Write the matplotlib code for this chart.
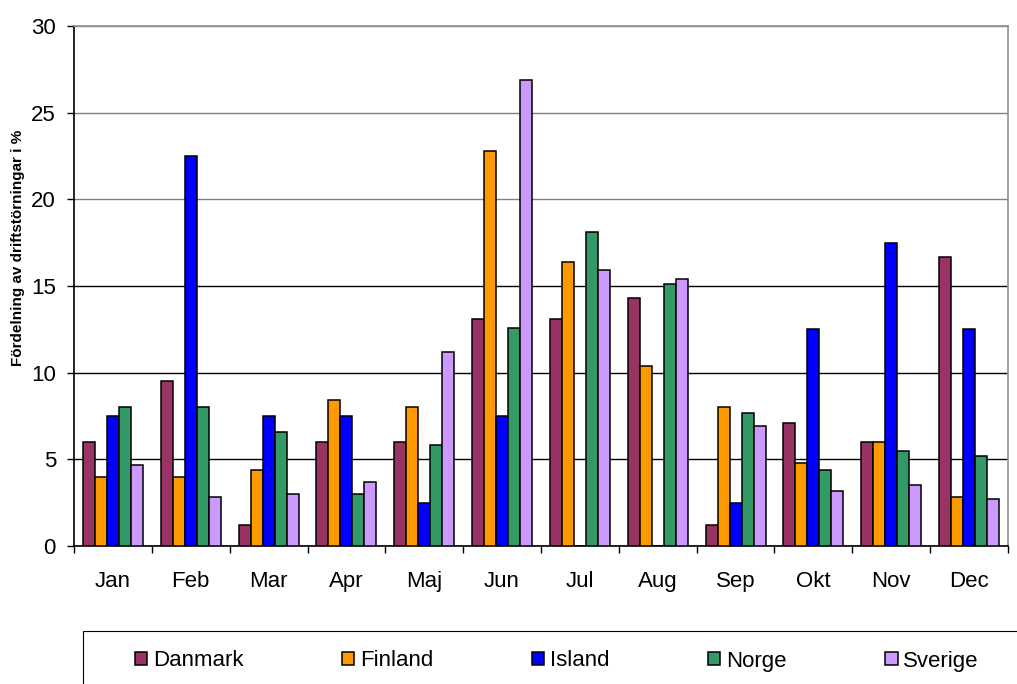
import numpy as np
import matplotlib
matplotlib.use("Agg")
import matplotlib.pyplot as plt
from matplotlib.patches import Rectangle

plt.rcParams["font.family"] = ["Liberation Sans", "DejaVu Sans"]

months = ["Jan", "Feb", "Mar", "Apr", "Maj", "Jun",
          "Jul", "Aug", "Sep", "Okt", "Nov", "Dec"]
countries = ["Danmark", "Finland", "Island", "Norge", "Sverige"]

danmark = [6.0, 9.5, 1.2, 6.0, 6.0, 13.1, 13.1, 14.3, 1.2, 7.1, 6.0, 16.7]
finland = [4.0, 4.0, 4.4, 8.4, 8.0, 22.8, 16.4, 10.4, 8.0, 4.8, 6.0, 2.8]
island = [7.5, 22.5, 7.5, 7.5, 2.5, 7.5, 0.0, 0.0, 2.5, 12.5, 17.5, 12.5]
norge = [8.0, 8.0, 6.6, 3.0, 5.8, 12.6, 18.1, 15.1, 7.7, 4.4, 5.5, 5.2]
sverige = [4.7, 2.8, 3.0, 3.7, 11.2, 26.9, 15.9, 15.4, 6.9, 3.2, 3.5, 2.7]

series = [danmark, finland, island, norge, sverige]
colors = ["#993366", "#FF9900", "#0000FF", "#339966", "#CC99FF"]

W, H = 1017, 684
fig = plt.figure(figsize=(W / 100, H / 100), dpi=100)
ax = fig.add_axes([74 / W, 1 - 546 / H, (1008 - 74) / W, (546 - 26) / H])

x = np.arange(len(months))
bw = 0.154
for i, (vals, col, name) in enumerate(zip(series, colors, countries)):
    ax.bar(x + (i - 2) * bw, vals, width=bw, color=col, edgecolor="black",
           linewidth=1.1, label=name, zorder=3)

ax.set_xlim(-0.5, len(months) - 0.5)
ax.set_ylim(0, 30)
ax.set_yticks(np.arange(0, 31, 5))
ax.set_xticks(x)
ax.set_xticklabels(months, fontsize=16)
ax.set_xticks(np.arange(-0.5, len(months), 1), minor=True)
ax.tick_params(axis="x", which="major", length=0, pad=18)
ax.tick_params(axis="x", which="minor", length=5, width=1, direction="out")
ax.tick_params(axis="y", labelsize=16, length=5, width=1, pad=8)

ax.yaxis.grid(True, linewidth=1, zorder=0)
for val, gl in zip(ax.get_yticks(), ax.get_ygridlines()):
    gl.set_color("#808080" if val >= 20 else "black")

ax.spines["left"].set_color("black")
ax.spines["bottom"].set_color("black")
ax.spines["top"].set_color("#909090")
ax.spines["right"].set_color("#909090")
for s in ax.spines.values():
    s.set_linewidth(1.2)

fig.text(18 / W, 1 - 248 / H, "Fördelning av driftstörningar i %",
         rotation=90, ha="center", va="center", fontsize=11, fontweight="bold")

# legend box running off the figure edge, as in the source
fig.patches.append(Rectangle((83 / W, -0.1), 1.0, 0.1 + (684 - 631) / H,
                             transform=fig.transFigure, facecolor="white",
                             edgecolor="black", linewidth=0.8))
handles, labels = ax.get_legend_handles_labels()
fig.legend(handles, labels, ncol=5, loc="center left",
           bbox_to_anchor=(135 / W, 1 - 661 / H), frameon=False,
           fontsize=16, handlelength=0.55, handleheight=0.55,
           handletextpad=0.25, columnspacing=4.45, borderpad=0,
           borderaxespad=0)

fig.savefig("out.png", dpi=100)
